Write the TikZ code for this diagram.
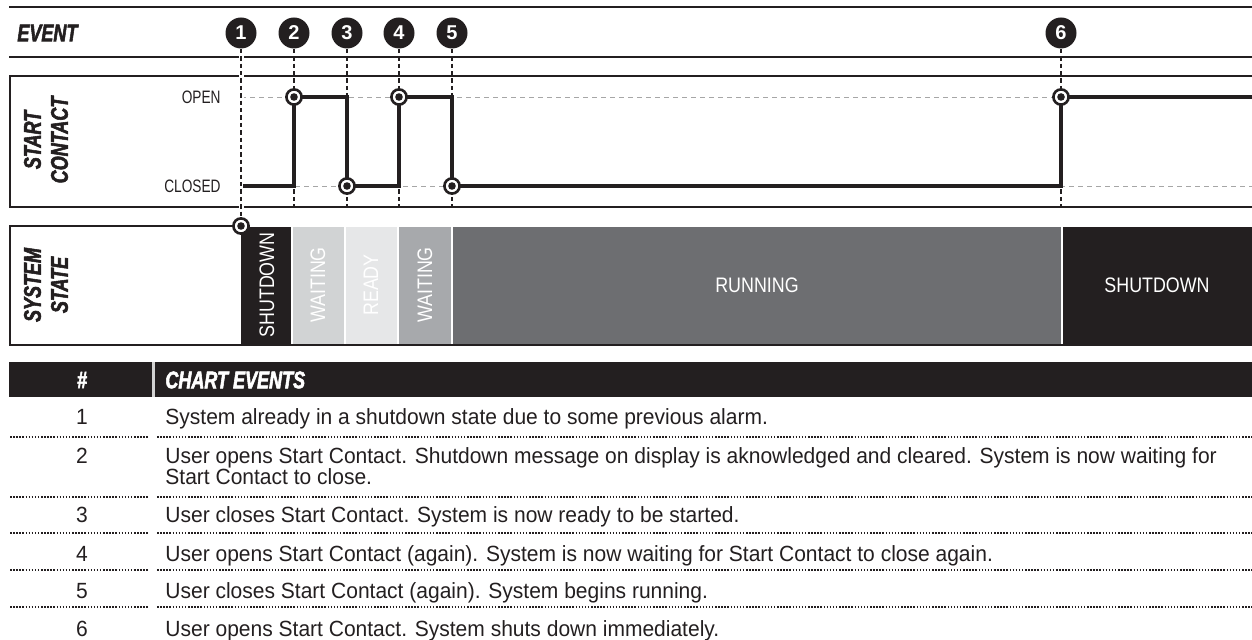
\documentclass[tikz,border=0pt]{standalone}
\usepackage{fontspec}
\setmainfont{Liberation Sans}
\newfontfamily\headfont[FakeStretch=0.75, BoldItalicFeatures={FakeBold=2.2}]{Liberation Sans}
\newfontfamily\condfont[FakeStretch=0.85]{Liberation Sans}
\newfontfamily\levelfont[FakeStretch=0.76]{Liberation Sans}
\newfontfamily\rowfont[FakeStretch=0.955]{Liberation Sans}
\usetikzlibrary{positioning}

\definecolor{ink}{HTML}{231F20}
\definecolor{waitlight}{HTML}{D1D3D4}
\definecolor{readygray}{HTML}{E6E7E8}
\definecolor{waitmid}{HTML}{A7A9AC}
\definecolor{rungray}{HTML}{6D6E71}

\begin{document}
\begin{tikzpicture}[x=0.5pt, y=-0.5pt,
  head/.style={inner sep=0pt, text=ink, font=\headfont\bfseries\itshape\fontsize{12}{13.5}\selectfont},
  evnum/.style={circle, fill=ink, text=white, inner sep=0pt, minimum size=15.5pt, font=\bfseries\fontsize{10}{10}\selectfont},
  level/.style={anchor=east, inner sep=0pt, text=ink, font=\levelfont\fontsize{9}{9}\selectfont},
  state/.style={inner sep=0pt, text=white, font=\condfont\fontsize{10.5}{10.5}\selectfont},
  dotmark/.style={circle, draw=ink, line width=1.3pt, fill=white, inner sep=0pt, minimum size=7.6pt,
    path picture={\fill[ink] (path picture bounding box.center) circle (1.9pt);}},
  evline/.style={ink, line width=0.55pt, dash pattern=on 2.2pt off 1.5pt},
  guide/.style={gray!70, line width=0.45pt, dash pattern=on 2.5pt off 2pt},
  signal/.style={ink, line width=1.6pt},
  rowtxt/.style={anchor=base west, inner sep=0pt, text=ink, font=\rowfont\fontsize{11}{11}\selectfont},
  rownum/.style={anchor=base, inner sep=0pt, text=ink, font=\rowfont\fontsize{11}{11}\selectfont},
  rowsep/.style={ink, line width=0.75pt, dash pattern=on 0.75pt off 0.8pt}]

  \useasboundingbox (0,0) rectangle (1252,640);

  % Event row
  \draw[ink, line width=1.3pt] (9,7) -- (1252,7);
  \draw[ink, line width=0.8pt] (9,57) -- (1252,57);
  \node[head, anchor=west] (event) at (17,33) {EVENT};
  \node[evnum] (e1) at (241,33) {1};
  \node[evnum] (e2) at (294,33) {2};
  \node[evnum] (e3) at (347,33) {3};
  \node[evnum] (e4) at (399,33) {4};
  \node[evnum] (e5) at (452,33) {5};
  \node[evnum] (e6) at (1061,33) {6};

  % Start contact
  \draw[ink, line width=1pt] (1252,76) -- (10,76) -- (10,207) -- (1252,207);
  \coordinate (scb) at (10,207);
  \node[head, rotate=90, align=center] (start) at (46,140) {START\\CONTACT};
  \node[level] (open) at (221,97) {OPEN};
  \node[level] (closed) at (221,186) {CLOSED};
  \coordinate (c0) at (241,186);
  \coordinate (p2) at (294,97);
  \coordinate (p3) at (347,186);
  \coordinate (p4) at (399,97);
  \coordinate (p5) at (452,186);
  \coordinate (p6) at (1061,97);
  \coordinate (cend) at (1252,97);
  \draw[guide] (c0 |- p2) -- (cend);
  \draw[guide] (c0) -- (cend |- c0);

  % System state
  \fill[ink] (241,227) rectangle (292,344);
  \fill[waitlight] (292,227) rectangle (345,344);
  \fill[readygray] (345,227) rectangle (398,344);
  \fill[waitmid] (398,227) rectangle (452,344);
  \fill[rungray] (452,227) rectangle (1062,344);
  \fill[ink] (1062,227) rectangle (1252,344);
  \draw[white, line width=0.8pt] (292,227) -- (292,344) (345,227) -- (345,344)
    (398,227) -- (398,344) (452,227) -- (452,344) (1062,227) -- (1062,344);
  \draw[ink, line width=1pt] (240,226) -- (10,226) -- (10,345) -- (1252,345);
  \coordinate (p1) at (241,226);
  \node[head, rotate=90, align=center] (system) at (46,285) {SYSTEM\\STATE};
  \node[state, rotate=90] (s1) at (267,285) {SHUTDOWN};
  \node[state, rotate=90] (s2) at (318,285) {WAITING};
  \node[state, rotate=90] (s3) at (371,285) {READY};
  \node[state, rotate=90] (s4) at (425,285) {WAITING};
  \node[state] (s5) at (757,285) {RUNNING};
  \node[state] (s6) at (1157,285) {SHUTDOWN};

  % Event lines, signal and markers
  \draw[evline, preaction={draw=white, solid, line width=2.5pt}] (e1) -- (p1);
  \draw[evline] (e2) -- (e2 |- scb);
  \draw[evline] (e3) -- (e3 |- scb);
  \draw[evline] (e4) -- (e4 |- scb);
  \draw[evline] (e5) -- (e5 |- scb);
  \draw[evline] (e6) -- (e6 |- scb);
  \draw[signal] ([xshift=1.2pt]c0) -| (p2) -| (p3) -| (p4) -| (p5) -| (p6) -- (cend);
  \node[dotmark] (m1) at (p1) {};
  \node[dotmark] (m2) at (p2) {};
  \node[dotmark] (m3) at (p3) {};
  \node[dotmark] (m4) at (p4) {};
  \node[dotmark] (m5) at (p5) {};
  \node[dotmark] (m6) at (p6) {};

  % Chart events
  \fill[ink] (9,362) rectangle (152,397);
  \fill[gray!35] (152,362) rectangle (155,397);
  \fill[ink] (155,362) rectangle (1252,397);
  \node[head, text=white] (hnum) at (82,380) {\#};
  \node[head, text=white, anchor=west] (hevents) at (165,380) {CHART EVENTS};

  \node[rownum] (n1) at (82,425) {1};
  \node[rowtxt] (r1) at (165,425) {System already in a shutdown state due to some previous alarm.};
  \node[rownum] (n2) at (82,464) {2};
  \node[rowtxt] (r2) at (165,464) {User opens Start Contact. Shutdown message on display is aknowledged and cleared. System is now waiting for};
  \node[rowtxt] (r2b) at (165,485) {Start Contact to close.};
  \node[rownum] (n3) at (82,523) {3};
  \node[rowtxt] (r3) at (165,523) {User closes Start Contact. System is now ready to be started.};
  \node[rownum] (n4) at (82,561) {4};
  \node[rowtxt] (r4) at (165,561) {User opens Start Contact (again). System is now waiting for Start Contact to close again.};
  \node[rownum] (n5) at (82,598) {5};
  \node[rowtxt] (r5) at (165,598) {User closes Start Contact (again). System begins running.};
  \node[rownum] (n6) at (82,636) {6};
  \node[rowtxt] (r6) at (165,636) {User opens Start Contact. System shuts down immediately.};

  \draw[rowsep] (10,437) -- (148,437) (157,437) -- (1252,437)
    (10,497) -- (148,497) (157,497) -- (1252,497)
    (10,533) -- (148,533) (157,533) -- (1252,533)
    (10,570) -- (148,570) (157,570) -- (1252,570)
    (10,607) -- (148,607) (157,607) -- (1252,607);
\end{tikzpicture}
\end{document}
